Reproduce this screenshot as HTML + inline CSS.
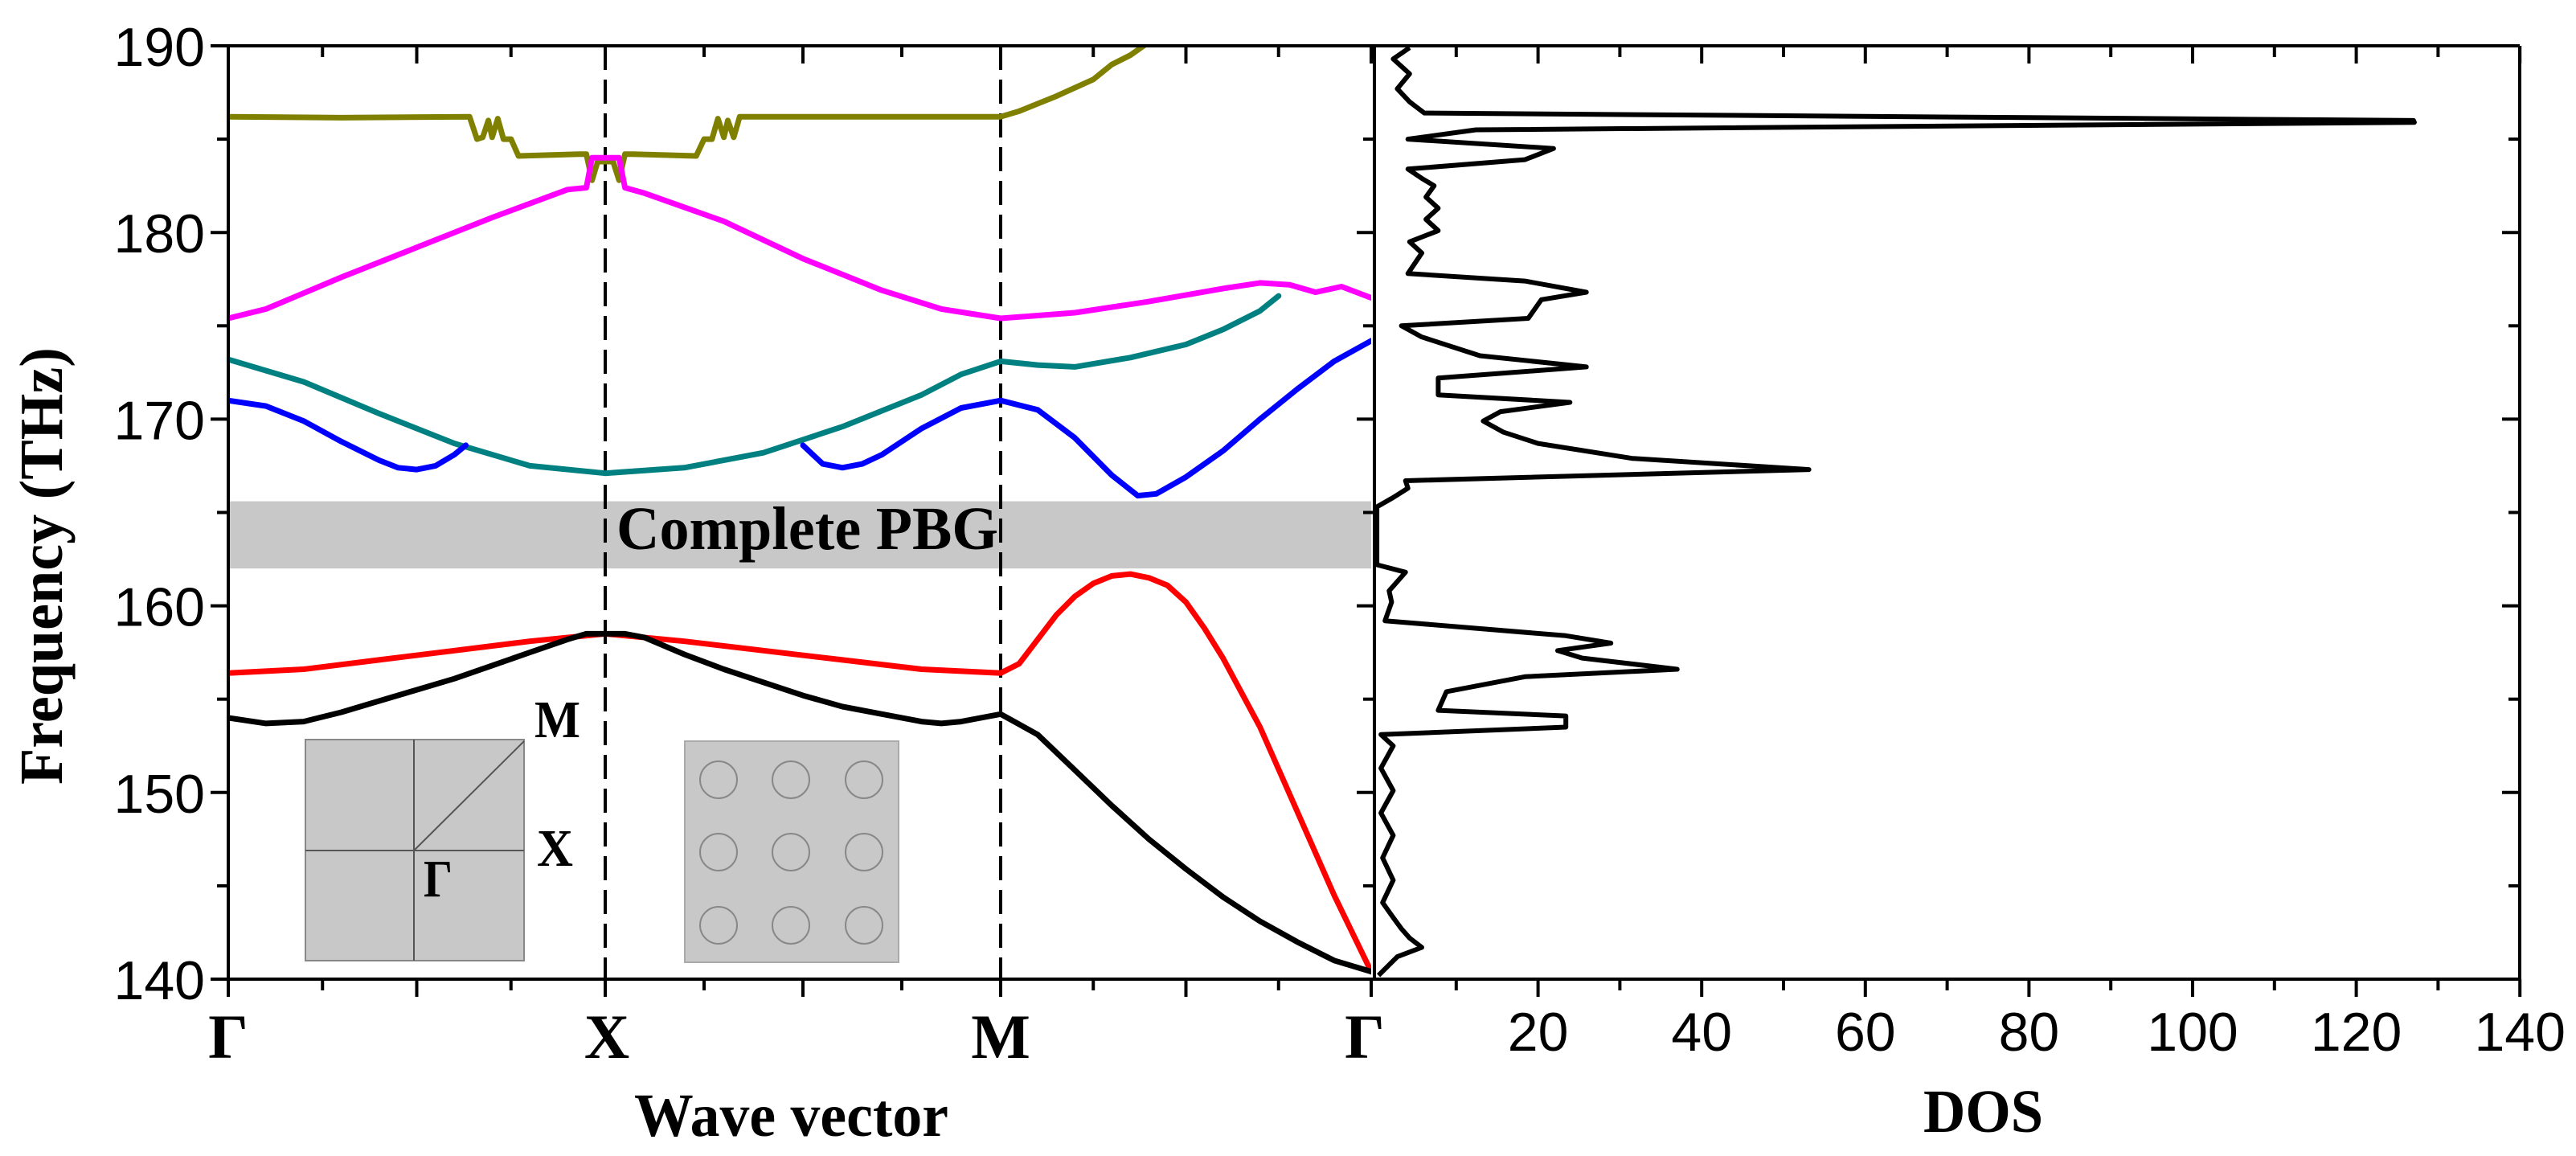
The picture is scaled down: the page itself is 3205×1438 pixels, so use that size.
<!DOCTYPE html>
<html><head><meta charset="utf-8">
<style>
html,body{margin:0;padding:0;background:#fff;}
svg{display:block;}
.tk{font-family:"Liberation Sans",Arial,sans-serif;font-size:68px;fill:#000;}
.bl{font-family:"Liberation Serif","Times New Roman",serif;font-weight:bold;fill:#000;}
</style></head>
<body>
<svg id="chart" width="3205" height="1438" viewBox="0 0 3205 1438" xmlns="http://www.w3.org/2000/svg">
<defs><clipPath id="clipL"><rect x="284" y="57" width="1422" height="1161"/></clipPath>
<clipPath id="clipR"><rect x="1710" y="57" width="1425" height="1161"/></clipPath></defs>
<g id="bg"></g>
<g id="curves" clip-path="url(#clipL)"></g>
<g id="dos" clip-path="url(#clipR)"></g>
<g id="axes"></g>
</svg>
<script>
// ---- data ----
const kLabels = ["Γ","X","M","Γ"];
const yTicks = [140,150,160,170,180,190];
const dosTicks = [20,40,60,80,100,120,140];
const gapRange = [162.0,165.6];
const blackK = [0,0.1,0.2,0.3,0.4,0.5,0.6,0.7,0.8,0.9,0.95,1.0,1.05,1.1,1.2,1.3,1.4,1.5,1.6,1.7,1.8,1.85,1.9,2.0,2.1,2.2,2.3,2.4,2.5,2.6,2.7,2.8,2.9,3.0];
const blackF = [154.0,153.7,153.8,154.3,154.9,155.5,156.1,156.8,157.5,158.2,158.5,158.5,158.5,158.3,157.4,156.6,155.9,155.2,154.6,154.2,153.8,153.7,153.8,154.2,153.1,151.2,149.3,147.5,145.9,144.4,143.1,142.0,141.0,140.4];
const redK = [0,0.2,0.4,0.6,0.8,1.0,1.2,1.4,1.6,1.8,2.0,2.05,2.1,2.15,2.2,2.25,2.3,2.35,2.4,2.45,2.5,2.55,2.6,2.7,2.8,2.9,3.0];
const redF = [156.4,156.6,157.1,157.6,158.1,158.5,158.1,157.6,157.1,156.6,156.4,156.9,158.2,159.5,160.5,161.2,161.6,161.7,161.5,161.1,160.2,158.8,157.2,153.5,149.0,144.5,140.4];
const blue1K = [0,0.1,0.2,0.3,0.4,0.45,0.5,0.55,0.6,0.63];
const blue1F = [171.0,170.7,169.9,168.8,167.8,167.4,167.3,167.5,168.1,168.6];
const blue2K = [1.5,1.55,1.6,1.65,1.7,1.8,1.9,2.0,2.1,2.2,2.3,2.37,2.42,2.5,2.6,2.7,2.8,2.9,3.0];
const blue2F = [168.6,167.6,167.4,167.6,168.1,169.5,170.6,171.0,170.5,169.0,167.0,165.9,166.0,166.9,168.3,170.0,171.6,173.1,174.2];
const tealK = [0,0.2,0.4,0.6,0.8,1.0,1.2,1.4,1.6,1.8,1.9,2.0,2.1,2.2,2.35,2.5,2.6,2.7,2.75];
const tealF = [173.2,172.0,170.3,168.7,167.5,167.1,167.4,168.2,169.6,171.3,172.4,173.1,172.9,172.8,173.3,174.0,174.8,175.8,176.6];
const magK = [0,0.1,0.3,0.5,0.7,0.9,0.95,0.965,1.035,1.05,1.1,1.3,1.5,1.7,1.85,2.0,2.2,2.4,2.6,2.7,2.78,2.85,2.92,3.0];
const magF = [175.4,175.9,177.6,179.2,180.8,182.3,182.4,184.0,184.0,182.4,182.1,180.6,178.6,176.9,175.9,175.4,175.7,176.3,177.0,177.3,177.2,176.8,177.1,176.5];
const oliveK = [0,0.3,0.64,0.66,0.675,0.69,0.70,0.715,0.73,0.75,0.77,0.93,0.95,0.965,0.98,1.0,1.02,1.035,1.05,1.07,1.23,1.25,1.27,1.285,1.30,1.31,1.325,1.34,1.36,2.0,2.05,2.15,2.25,2.3,2.35,2.4];
const oliveF = [186.2,186.15,186.2,185.0,185.1,186.0,185.1,186.1,185.0,185.0,184.1,184.2,184.2,182.8,183.8,183.8,183.8,182.8,184.2,184.2,184.1,185.0,185.0,186.1,185.1,186.0,185.1,186.2,186.2,186.2,186.5,187.3,188.2,189.0,189.5,190.2];
const dosF = [189.9,189.3,188.5,187.7,187.0,186.4,186.0,185.9,185.5,185.0,184.5,183.9,183.4,182.9,182.5,181.9,181.3,180.7,180.1,179.5,178.9,177.8,177.4,176.8,176.4,175.4,175.0,174.4,173.4,172.8,172.2,171.3,170.9,170.4,169.9,169.3,168.7,167.9,167.3,166.7,166.3,165.8,165.3,162.2,161.8,160.8,160.2,159.2,158.4,158.0,157.6,157.2,156.6,156.2,155.4,154.4,154.1,153.5,153.1,152.5,151.3,150.1,148.9,147.7,146.5,145.3,144.1,143.3,142.7,142.2,141.7,141.2,140.2];
const dosV = [4.3,2.3,4.3,2.8,4.3,6.1,127.0,127.1,12.4,4.1,21.9,18.4,4.1,5.8,7.3,6.3,7.8,6.3,7.8,4.3,5.8,4.1,18.4,25.9,20.4,18.8,3.3,5.8,12.9,25.9,7.8,7.8,23.9,15.4,13.3,15.8,20.0,31.5,53.1,3.8,4.1,2.3,0.3,0.3,3.8,1.8,2.1,1.3,23.4,28.9,22.4,25.4,37.0,18.4,8.8,7.8,23.4,23.4,0.8,2.3,0.8,2.3,0.8,2.3,1.0,2.3,1.0,2.3,3.3,4.3,5.8,2.8,0.5];

// ---- scales ----
const NS="http://www.w3.org/2000/svg";
const kPos=[284,753,1245,1706];
function kx(k){const i=Math.min(2,Math.floor(k));return kPos[i]+(k-i)*(kPos[i+1]-kPos[i]);}
function fy(f){return 57+(190-f)*23.22;}
function dx(d){return 1710+d*10.18;}
function mk(tag,attrs,parent){const e=document.createElementNS(NS,tag);for(const a in attrs)e.setAttribute(a,attrs[a]);parent.appendChild(e);return e;}
const bg=document.getElementById('bg'),cv=document.getElementById('curves'),ds=document.getElementById('dos'),ax=document.getElementById('axes');

// gap band
const gap=mk('rect',{x:284,y:fy(gapRange[1]),width:1422,height:fy(gapRange[0])-fy(gapRange[1]),fill:'#c8c8c8'},bg);


const gt=mk('text',{x:767,y:683,'font-size':76,textLength:475,lengthAdjust:'spacingAndGlyphs',class:'bl'},bg);
gt.textContent='Complete PBG';



// insets
const bz=mk('g',{},bg);


mk('rect',{x:380,y:920,width:272,height:275,fill:'#c8c8c8',stroke:'#888','stroke-width':2},bz);
mk('line',{x1:515,y1:920,x2:515,y2:1195,stroke:'#555','stroke-width':2},bz);
mk('line',{x1:380,y1:1058,x2:652,y2:1058,stroke:'#555','stroke-width':2},bz);
mk('line',{x1:515,y1:1058,x2:652,y2:922,stroke:'#555','stroke-width':2},bz);
[['M',665,917,57],['X',668,1077,45],['Γ',527,1115,36]].forEach(t=>{const e=mk('text',{x:t[1],y:t[2],'font-size':66,textLength:t[3],lengthAdjust:'spacingAndGlyphs',class:'bl'},bz);e.textContent=t[0];});
const lat=mk('g',{},bg);


mk('rect',{x:852,y:922,width:266,height:275,fill:'#c8c8c8',stroke:'#aaa','stroke-width':2},lat);
[894,984,1075].forEach(cx=>[970,1060,1151].forEach(cy=>mk('circle',{cx:cx,cy:cy,r:23,fill:'none',stroke:'#888','stroke-width':2},lat)));

// dashed symmetry lines
[753,1245].forEach((x,i)=>{const l=mk('line',{x1:x,y1:57,x2:x,y2:1218,stroke:'#000','stroke-width':4,'stroke-dasharray':'30 12'},bg);

});

// band curves
function band(K,F,color,name){
  const d=K.map((k,i)=>(i?'L':'M')+kx(k).toFixed(1)+' '+fy(F[i]).toFixed(1)).join(' ');
  const p=mk('path',{d:d,fill:'none',stroke:color,'stroke-width':7,'stroke-linejoin':'round','stroke-linecap':'round'},cv);
  
  
}
band(oliveK,oliveF,'#808000','band-6');
band(magK,magF,'#ff00ff','band-5');
band(tealK,tealF,'#008080','band-4');
band(blue1K,blue1F,'#0000ff','band-3a');
band(blue2K,blue2F,'#0000ff','band-3b');
band(redK,redF,'#ff0000','band-2');
band(blackK,blackF,'#000000','band-1');

// DOS curve
const dd=dosF.map((f,i)=>(i?'L':'M')+dx(dosV[i]).toFixed(1)+' '+fy(f).toFixed(1)).join(' ');
const dp=mk('path',{d:dd,fill:'none',stroke:'#000','stroke-width':6,'stroke-linejoin':'round'},ds);



// axes frames
const f1=mk('rect',{x:284,y:57,width:1426,height:1161,fill:'none',stroke:'#000','stroke-width':4},ax);


mk('line',{x1:3135,y1:57,x2:3135,y2:1218,stroke:'#000','stroke-width':4},ax);
mk('line',{x1:1710,y1:57,x2:3135,y2:57,stroke:'#000','stroke-width':4},ax);
mk('line',{x1:1710,y1:1218,x2:3135,y2:1218,stroke:'#000','stroke-width':4},ax);

// y ticks
for(let f=140;f<=190;f+=5){const y=fy(f),L=(f%10===0)?22:14;
 mk('line',{x1:284-L,y1:y,x2:284,y2:y,stroke:'#000','stroke-width':4},ax);
 mk('line',{x1:1710-L,y1:y,x2:1710,y2:y,stroke:'#000','stroke-width':4},ax);
 mk('line',{x1:3135-L,y1:y,x2:3135,y2:y,stroke:'#000','stroke-width':4},ax);}
yTicks.forEach(f=>{const t=mk('text',{x:255,y:fy(f)+25,'text-anchor':'end',class:'tk'},ax);t.textContent=f;

});
// k ticks
for(let q=0;q<=12;q++){const k=q/4,x=kx(k),L=(q%2===0)?22:14;
 mk('line',{x1:x,y1:1218,x2:x,y2:1218+L,stroke:'#000','stroke-width':4},ax);
 mk('line',{x1:x,y1:57,x2:x,y2:57+L,stroke:'#000','stroke-width':4},ax);}
kLabels.forEach((s,i)=>{const t=mk('text',{x:kPos[i]+(i===3?-8:(i===1?2:0)),y:1316,'text-anchor':'middle','font-size':78,class:'bl'},ax);t.textContent=s;

});
// dos ticks
for(let d=10;d<=140;d+=10){const x=dx(d),L=(d%20===0)?22:14;
 mk('line',{x1:x,y1:1218,x2:x,y2:1218+L,stroke:'#000','stroke-width':4},ax);
 mk('line',{x1:x,y1:57,x2:x,y2:57+L,stroke:'#000','stroke-width':4},ax);}
dosTicks.forEach(d=>{const t=mk('text',{x:dx(d),y:1307,'text-anchor':'middle',class:'tk'},ax);t.textContent=d;

});

// titles
const yt=mk('text',{x:0,y:0,transform:'translate(77,704) rotate(-90)','text-anchor':'middle','font-size':76,textLength:544,lengthAdjust:'spacingAndGlyphs',class:'bl'},ax);yt.textContent='Frequency (THz)';


const xt=mk('text',{x:789,y:1413,'font-size':76,textLength:391,lengthAdjust:'spacingAndGlyphs',class:'bl'},ax);xt.textContent='Wave vector';


const dt=mk('text',{x:2393,y:1408,'font-size':76,textLength:149,lengthAdjust:'spacingAndGlyphs',class:'bl'},ax);dt.textContent='DOS';


</script>
</body></html>
